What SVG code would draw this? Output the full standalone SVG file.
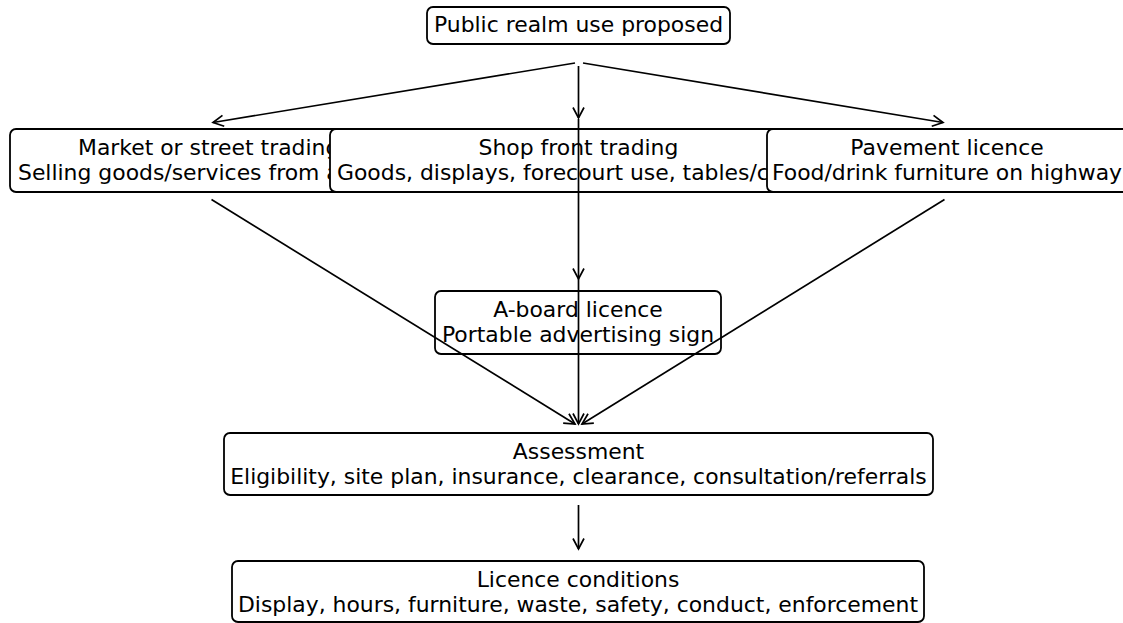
<svg xmlns="http://www.w3.org/2000/svg" width="1123" height="623" viewBox="0 0 1123 623">
  <style>
    .box { fill: #ffffff; stroke: #000000; stroke-width: 1.8; }
    .lbl { font-family: "DejaVu Sans", sans-serif; font-size: 21.9px; fill: #000000; }
    .mid { text-anchor: middle; }
    .edge { fill: none; stroke: #000000; stroke-width: 1.7; }
  </style>
  <defs>
    <marker id="arrow" viewBox="-12 -7 14 14" markerWidth="14" markerHeight="14" refX="0" refY="0" orient="auto" markerUnits="userSpaceOnUse">
      <path d="M -10.5 -5.5 L 0 0 L -10.5 5.5" fill="none" stroke="#000000" stroke-width="1.7"/>
    </marker>
  </defs>

  <g id="node-public">
    <rect class="box" x="427" y="7" width="303" height="37" rx="6"/>
    <text class="lbl mid" x="578.5" y="32">Public realm use proposed</text>
  </g>

  <g id="node-market">
    <rect class="box" x="10" y="129" width="400" height="63" rx="6"/>
    <text class="lbl" x="78" y="155">Market or street trading</text>
    <text class="lbl" x="18" y="180">Selling goods/services from a</text>
  </g>

  <g id="node-shop">
    <rect class="box" x="330" y="129" width="496" height="63" rx="6"/>
    <text class="lbl mid" x="578.5" y="155">Shop front trading</text>
    <text class="lbl" x="337" y="180">Goods, displays, forecourt use, tables/c</text>
  </g>

  <g id="node-pavement">
    <rect class="box" x="767" y="129" width="370" height="63" rx="6"/>
    <text class="lbl mid" x="947" y="155">Pavement licence</text>
    <text class="lbl mid" x="947" y="180">Food/drink furniture on highway</text>
  </g>

  <g id="node-aboard">
    <rect class="box" x="435" y="291" width="286" height="63" rx="6"/>
    <text class="lbl mid" x="578" y="317">A-board licence</text>
    <text class="lbl mid" x="578" y="342">Portable advertising sign</text>
  </g>

  <g id="node-assessment">
    <rect class="box" x="224" y="433" width="709" height="62" rx="6"/>
    <text class="lbl mid" x="578.5" y="459">Assessment</text>
    <text class="lbl mid" x="578.5" y="484">Eligibility, site plan, insurance, clearance, consultation/referrals</text>
  </g>

  <g id="node-conditions">
    <rect class="box" x="232" y="561" width="692" height="61" rx="6"/>
    <text class="lbl mid" x="578" y="587">Licence conditions</text>
    <text class="lbl mid" x="578" y="612">Display, hours, furniture, waste, safety, conduct, enforcement</text>
  </g>

  <g id="connectors">
    <line class="edge" x1="575" y1="63" x2="213" y2="122.5" marker-end="url(#arrow)"/>
    <line class="edge" x1="578.5" y1="66" x2="578.5" y2="118" marker-end="url(#arrow)"/>
    <line class="edge" x1="583" y1="63" x2="943" y2="122.5" marker-end="url(#arrow)"/>
    <line class="edge" x1="578.5" y1="119" x2="578.5" y2="279" marker-end="url(#arrow)"/>
    <line class="edge" x1="578.5" y1="279" x2="578.5" y2="424" marker-end="url(#arrow)"/>
    <line class="edge" x1="211.5" y1="199.5" x2="575" y2="424" marker-end="url(#arrow)"/>
    <line class="edge" x1="944.5" y1="199.5" x2="582" y2="424" marker-end="url(#arrow)"/>
    <line class="edge" x1="578.5" y1="505" x2="578.5" y2="549" marker-end="url(#arrow)"/>
  </g>
</svg>
